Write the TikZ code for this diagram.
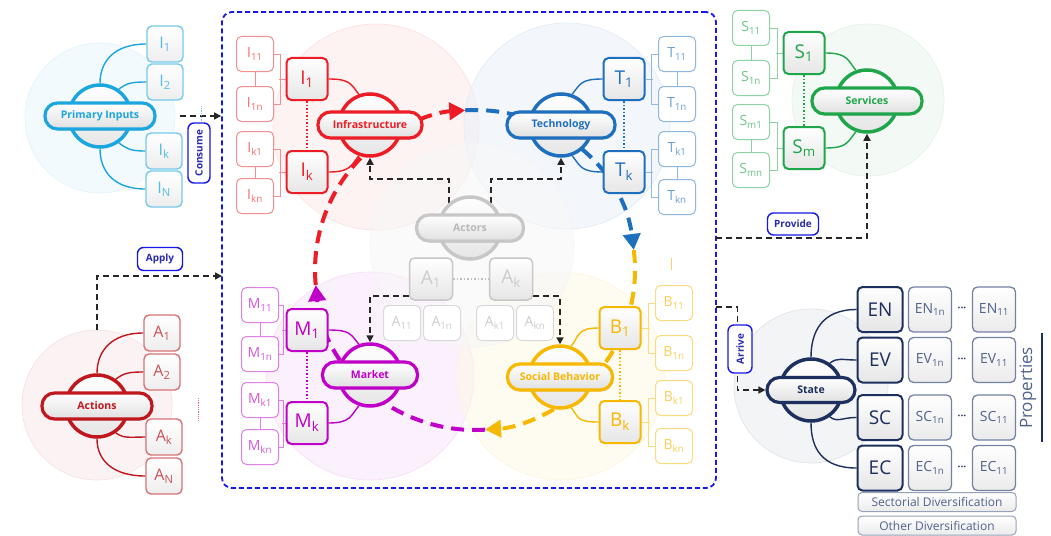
\documentclass[tikz,border=0pt]{standalone}
\usepackage{fontspec}
\setmainfont{Open Sans}
\usetikzlibrary{arrows.meta,shadows,calc}
\definecolor{pin}{HTML}{1BA6E0}
\definecolor{inf}{HTML}{EE1C24}
\definecolor{tec}{HTML}{1F6FBF}
\definecolor{srv}{HTML}{1FA64A}
\definecolor{act}{HTML}{C0161D}
\definecolor{mkt}{HTML}{C000C8}
\definecolor{soc}{HTML}{F6B800}
\definecolor{stt}{HTML}{1C2F5E}
\definecolor{sttl}{HTML}{50628C}
\definecolor{lab}{HTML}{1717E8}
\definecolor{labt}{HTML}{2A2AB0}
\colorlet{acg}{black!30}
\colorlet{acb}{black!22}
\pgfdeclarelayer{back}
\pgfdeclarelayer{mid}
\pgfsetlayers{back,mid,main}
\tikzset{
  bgcirc/.style={fill=#1!10, draw=#1!14, line width=0.6pt, fill opacity=0.5},
  mainframe/.style={draw=lab, line width=1.8pt, dash pattern=on 5pt off 3pt, rounded corners=10pt, minimum width=494pt, minimum height=476pt, inner sep=0pt},
  cloudc/.style={circle, minimum size=62pt, inner sep=0pt, draw=#1, line width=3.5pt, top color=white, bottom color=black!10},
  pill/.style={rectangle, rounded corners=12.5pt, minimum height=26pt, inner xsep=6pt, draw=#1, line width=3.2pt, top color=white, bottom color=black!12, text=#1, font=\bfseries\fontsize{10.5}{12}\selectfont, drop shadow={opacity=0.3,shadow xshift=1.2pt,shadow yshift=-1.5pt}},
  bigbox/.style={rectangle, rounded corners=5pt, minimum width=41pt, minimum height=42pt, inner sep=0pt, draw=#1, line width=2pt, top color=white, bottom color=black!10, text=#1, font=\fontsize{19}{21}\selectfont},
  smbox/.style={rectangle, rounded corners=5pt, minimum width=37pt, minimum height=35pt, inner sep=0pt, draw=#1!50, line width=1pt, fill=white, text=#1!65, font=\fontsize{14}{16}\selectfont},
  itbox/.style={rectangle, rounded corners=5pt, minimum width=36pt, minimum height=36pt, inner sep=0pt, draw=#1!60, line width=1.4pt, top color=white, bottom color=black!7, text=#1!75, font=\fontsize{16}{18}\selectfont},
  verbbox/.style={rectangle, rounded corners=6pt, draw=lab, line width=1.4pt, fill=white, text=labt, font=\bfseries\fontsize{10}{12}\selectfont, inner sep=0pt},
  dasharr/.style={draw=black!85, line width=1.6pt, dash pattern=on 6pt off 4pt, -{Triangle[length=7pt,width=7pt]}},
  conn/.style={draw=#1, line width=1.4pt},
  brk/.style={draw=#1!50, line width=0.8pt},
  dots/.style={draw=#1, dotted, line width=1.5pt},
  cyc/.style={draw=#1, line width=4pt, dash pattern=on 13pt off 8pt, -{Triangle[length=16pt,width=17pt]}},
  stbig/.style={rectangle, rounded corners=5pt, minimum width=45pt, minimum height=45pt, inner sep=0pt, draw=stt, line width=2pt, top color=white, bottom color=black!10, text=stt, font=\fontsize{19}{21}\selectfont},
  stsm/.style={rectangle, rounded corners=5pt, minimum width=43pt, minimum height=45pt, inner sep=0pt, draw=sttl!80, line width=1.3pt, top color=white, bottom color=black!8, text=sttl, font=\fontsize{14}{16}\selectfont},
  stdots/.style={text=stt, font=\bfseries\fontsize{10}{12}\selectfont, inner sep=0pt},
  stbar/.style={rectangle, rounded corners=4pt, minimum width=158pt, minimum height=19pt, inner sep=0pt, draw=sttl!60, line width=1pt, top color=white, bottom color=black!8, text=sttl, font=\fontsize{12}{14}\selectfont},
}
\begin{document}
\begin{tikzpicture}[x=1pt,y=-1pt]
\useasboundingbox (0,0) rectangle (1051,535);
\begin{pgfonlayer}{back}
\fill[white] (0,0) rectangle (1051,535);
\path[bgcirc=pin] (100,118) circle[radius=75pt];
\path[bgcirc=act] (97,405) circle[radius=75pt];
\path[bgcirc=srv] (868,100) circle[radius=76pt];
\path[bgcirc=stt] (811,386) circle[radius=77pt];
\path[bgcirc=inf] (376,127) circle[radius=103pt];
\path[bgcirc=tec] (567,126) circle[radius=103pt];
\path[bgcirc=mkt] (370,376) circle[radius=104pt];
\path[bgcirc=soc] (561,376) circle[radius=104pt];
\path[bgcirc=acg] (472,245) circle[radius=102pt];
\node[mainframe] (sys) at (469,250) {};
\end{pgfonlayer}

% Primary inputs
\node[cloudc=pin] (pinc) at (100,116) {};
\node[pill=pin, minimum width=110pt] (pinp) at (100,116) {Primary Inputs};
\node[itbox=pin] (pI1) at (165,44) {I\textsubscript{1}};
\node[itbox=pin] (pI2) at (165,82) {I\textsubscript{2}};
\node[itbox=pin] (pIk) at (164,151) {I\textsubscript{k}};
\node[itbox=pin] (pIN) at (164,189) {I\textsubscript{N}};
\node[verbbox, rotate=90, minimum width=60pt, minimum height=22pt] (cons) at (199,153) {Consume};
\coordinate (consS) at (180,116);

% Actions
\node[cloudc=act] (actc) at (97,406) {};
\node[pill=act, minimum width=110pt] (actp) at (97,406) {Actions};
\node[itbox=act] (aA1) at (162,333) {A\textsubscript{1}};
\node[itbox=act] (aA2) at (162,372) {A\textsubscript{2}};
\node[itbox=act] (aAk) at (164,437) {A\textsubscript{k}};
\node[itbox=act] (aAN) at (164,476) {A\textsubscript{N}};
\node[verbbox, minimum width=45pt, minimum height=23pt] (apply) at (160,259) {Apply};
\coordinate (apS) at (97,330);
\coordinate (apE) at (222,276);

% Infrastructure
\node[cloudc=inf] (infc) at (370,125) {};
\node[pill=inf, minimum width=104pt] (infp) at (370,125) {Infrastructure};
\node[bigbox=inf] (iI1) at (307,79) {I\textsubscript{1}};
\node[bigbox=inf] (iIk) at (307,172) {I\textsubscript{k}};
\node[smbox=inf] (i11) at (255,54) {I\textsubscript{11}};
\node[smbox=inf] (i1n) at (255,104) {I\textsubscript{1n}};
\node[smbox=inf] (ik1) at (255,149) {I\textsubscript{k1}};
\node[smbox=inf] (ikn) at (255,196) {I\textsubscript{kn}};

% Technology
\node[cloudc=tec] (tecc) at (561,125) {};
\node[pill=tec, minimum width=108pt] (tecp) at (561,125) {Technology};
\node[bigbox=tec] (tT1) at (624,79) {T\textsubscript{1}};
\node[bigbox=tec] (tTk) at (624,172) {T\textsubscript{k}};
\node[smbox=tec] (t11) at (677,54) {T\textsubscript{11}};
\node[smbox=tec] (t1n) at (677,104) {T\textsubscript{1n}};
\node[smbox=tec] (tk1) at (677,149) {T\textsubscript{k1}};
\node[smbox=tec] (tkn) at (677,197) {T\textsubscript{kn}};

% Market
\node[cloudc=mkt] (mktc) at (370,375) {};
\node[pill=mkt, minimum width=95pt] (mktp) at (370,375) {Market};
\node[bigbox=mkt] (mM1) at (307,330) {M\textsubscript{1}};
\node[bigbox=mkt] (mMk) at (307,423) {M\textsubscript{k}};
\node[smbox=mkt] (m11) at (260,305) {M\textsubscript{11}};
\node[smbox=mkt] (m1n) at (260,354) {M\textsubscript{1n}};
\node[smbox=mkt] (mk1) at (260,400) {M\textsubscript{k1}};
\node[smbox=mkt] (mkn) at (260,447) {M\textsubscript{kn}};

% Social behavior
\node[cloudc=soc] (socc) at (560,377) {};
\node[pill=soc, minimum width=105pt] (socp) at (560,377) {Social Behavior};
\node[bigbox=soc] (bB1) at (620,328) {B\textsubscript{1}};
\node[bigbox=soc] (bBk) at (620,422) {B\textsubscript{k}};
\node[smbox=soc] (b11) at (674,303) {B\textsubscript{11}};
\node[smbox=soc] (b1n) at (674,353) {B\textsubscript{1n}};
\node[smbox=soc] (bk1) at (674,398) {B\textsubscript{k1}};
\node[smbox=soc] (bkn) at (674,446) {B\textsubscript{kn}};

% Actors
\node[cloudc=acb] (acrc) at (470,228) {};
\node[pill=acb, text=black!28, minimum width=107pt] (acrp) at (470,228) {Actors};
\node[bigbox=acb, line width=1.5pt, minimum width=43pt, text=black!20] (acA1) at (431,279) {A\textsubscript{1}};
\node[bigbox=acb, line width=1.5pt, minimum width=43pt, text=black!20] (acAk) at (511,279) {A\textsubscript{k}};
\node[smbox=acg] (ac11) at (402,323) {A\textsubscript{11}};
\node[smbox=acg] (ac1n) at (442,323) {A\textsubscript{1n}};
\node[smbox=acg] (ack1) at (495,323) {A\textsubscript{k1}};
\node[smbox=acg] (ackn) at (535,323) {A\textsubscript{kn}};

% Services
\node[cloudc=srv] (srvc) at (867,101) {};
\node[pill=srv, minimum width=110pt] (srvp) at (867,101) {Services};
\node[bigbox=srv] (sS1) at (804,53) {S\textsubscript{1}};
\node[bigbox=srv] (sSm) at (804,148) {S\textsubscript{m}};
\node[smbox=srv] (s11) at (751,28) {S\textsubscript{11}};
\node[smbox=srv] (s1n) at (751,78) {S\textsubscript{1n}};
\node[smbox=srv] (sm1) at (751,122) {S\textsubscript{m1}};
\node[smbox=srv] (smn) at (751,170) {S\textsubscript{mn}};
\node[verbbox, minimum width=51pt, minimum height=22pt] (prov) at (793,224) {Provide};
\coordinate (prS) at (716,238);

% State
\node[cloudc=stt] (sttc) at (811,390) {};
\node[pill=stt, minimum width=88pt, minimum height=25pt] (sttp) at (811,390) {State};
\node[stbig] (sEN) at (880,309.5) {EN};
\node[stbig] (sEV) at (880,360) {EV};
\node[stbig] (sSC) at (880,417.5) {SC};
\node[stbig] (sEC) at (880,468) {EC};
\node[stsm] (sEN1) at (930,309.5) {EN\textsubscript{1n}};
\node[stsm] (sEN2) at (994,309.5) {EN\textsubscript{11}};
\node[stdots] (dEN) at (962,309.5) {···};
\node[stsm] (sEV1) at (930,360) {EV\textsubscript{1n}};
\node[stsm] (sEV2) at (994,360) {EV\textsubscript{11}};
\node[stdots] (dEV) at (962,360) {···};
\node[stsm] (sSC1) at (930,417.5) {SC\textsubscript{1n}};
\node[stsm] (sSC2) at (994,417.5) {SC\textsubscript{11}};
\node[stdots] (dSC) at (962,417.5) {···};
\node[stsm] (sEC1) at (930,468) {EC\textsubscript{1n}};
\node[stsm] (sEC2) at (994,468) {EC\textsubscript{11}};
\node[stdots] (dEC) at (962,468) {···};
\node[stbar] (sect) at (937,502) {Sectorial Diversification};
\node[stbar] (other) at (937,525.5) {Other Diversification};
\node[rotate=90, text=sttl, font=\fontsize{17}{19}\selectfont, inner sep=0pt] (prop) at (1028,388) {Properties};
\draw[stt, line width=1.2pt] (1042,333) -- (1042,442);
\node[verbbox, rotate=90, minimum width=48pt, minimum height=24pt] (arr) at (740,349) {Arrive};
\coordinate (arS) at (716,307);

\begin{pgfonlayer}{mid}
% main cycle
\draw[cyc=inf] ({475+160*cos(174.6)},{270+160*sin(174.6)}) arc[start angle=-174.6, end angle=-266.5, radius=160pt];
\draw[cyc=tec] ({475+160*cos(266.5)},{270+160*sin(266.5)}) arc[start angle=-266.5, end angle=-352.8, radius=160pt];
\draw[cyc=soc] ({475+160*cos(352.8)},{270+160*sin(352.8)}) arc[start angle=-352.8, end angle=-446.4, radius=160pt];
\draw[cyc=mkt] ({475+160*cos(446.4)},{270+160*sin(446.4)}) arc[start angle=-446.4, end angle=-534.6, radius=160pt];

% black dashed arrows
\draw[dasharr] (consS) -- (consS -| sys.west);
\draw[dasharr] (apS) |- (apE);
\draw[dasharr] (prS) -| (srvc.south);
\draw[dasharr] (arS) -| ([xshift=-28pt]sttp.west) -- (sttp.west);
\draw[dasharr] (acrc.130) -- ++(0,-24) -| (infc.south);
\draw[dasharr] (acrc.50) -- ++(0,-24) -| (tecc.south);
\draw[dasharr] ([yshift=-17pt]acA1.west) -| (mktc.north);
\draw[dasharr] ([yshift=-17pt]acAk.east) -| (socc.north);

% primary inputs links
\draw[conn=pin] (pI1.west) .. controls +(-32,0) and +(0,-22) .. (pinc.north);
\draw[conn=pin] (pI2.west) .. controls +(-15,0) and +(8,-6) .. (pinc.55);
\draw[conn=pin] (pIk.west) .. controls +(-15,0) and +(8,6) .. (pinc.-55);
\draw[conn=pin] (pIN.west) .. controls +(-32,0) and +(0,22) .. (pinc.south);
\draw[pin!60, densely dotted, line width=0.8pt] (201,106) -- (201,122);
% actions links
\draw[conn=act] (aA1.west) .. controls +(-32,0) and +(0,-22) .. (actc.north);
\draw[conn=act] (aA2.west) .. controls +(-15,0) and +(8,-6) .. (actc.55);
\draw[conn=act] (aAk.west) .. controls +(-15,0) and +(8,6) .. (actc.-55);
\draw[conn=act] (aAN.west) .. controls +(-32,0) and +(0,22) .. (actc.south);
\draw[act!60, densely dotted, line width=0.8pt] (198,398) -- (198,420);
% state links
\draw[conn=stt] (sEN.west) .. controls +(-35,0) and +(0,-25) .. (sttc.north);
\draw[conn=stt] (sEV.west) .. controls +(-15,0) and +(8,-6) .. (sttc.55);
\draw[conn=stt] (sSC.west) .. controls +(-15,0) and +(8,6) .. (sttc.-55);
\draw[conn=stt] (sEC.west) .. controls +(-35,0) and +(0,25) .. (sttc.south);

% infrastructure
\draw[conn=inf] (iI1.east) .. controls +(22,0) and +(-8,-10) .. (infc.110);
\draw[conn=inf] (iIk.east) .. controls +(22,0) and +(-8,10) .. (infc.250);
\draw[brk=inf] (i11.east) -- ++(6,0) |- (i1n.east);
\draw[brk=inf] (ik1.east) -- ++(6,0) |- (ikn.east);
\draw[brk=inf] (iI1.west) -- ++(-7,0);
\draw[brk=inf] (iIk.west) -- ++(-7,0);
\draw[brk=inf] (i11.south) -- (i1n.north);
\draw[brk=inf] (ik1.south) -- (ikn.north);
\draw[dots=inf] (iI1.south) -- (iIk.north);
% technology
\draw[conn=tec] (tT1.west) .. controls +(-22,0) and +(8,-10) .. (tecc.70);
\draw[conn=tec] (tTk.west) .. controls +(-22,0) and +(8,10) .. (tecc.290);
\draw[brk=tec] (t11.west) -- ++(-7,0) |- (t1n.west);
\draw[brk=tec] (tk1.west) -- ++(-7,0) |- (tkn.west);
\draw[brk=tec] (tT1.east) -- ++(7,0);
\draw[brk=tec] (tTk.east) -- ++(7,0);
\draw[brk=tec] (t11.south) -- (t1n.north);
\draw[brk=tec] (tk1.south) -- (tkn.north);
\draw[dots=tec] (tT1.south) -- (tTk.north);
% market
\draw[conn=mkt] (mM1.east) .. controls +(22,0) and +(-8,-10) .. (mktc.110);
\draw[conn=mkt] (mMk.east) .. controls +(22,0) and +(-8,10) .. (mktc.250);
\draw[brk=mkt] (m11.east) -- ++(4,0) |- (m1n.east);
\draw[brk=mkt] (mk1.east) -- ++(4,0) |- (mkn.east);
\draw[brk=mkt] (mM1.west) -- ++(-4,0);
\draw[brk=mkt] (mMk.west) -- ++(-4,0);
\draw[brk=mkt] (m11.south) -- (m1n.north);
\draw[brk=mkt] (mk1.south) -- (mkn.north);
\draw[dots=mkt] (mM1.south) -- (mMk.north);
% social
\draw[conn=soc] (bB1.west) .. controls +(-22,0) and +(8,-10) .. (socc.70);
\draw[conn=soc] (bBk.west) .. controls +(-22,0) and +(8,10) .. (socc.290);
\draw[brk=soc] (b11.west) -- ++(-7,0) |- (b1n.west);
\draw[brk=soc] (bk1.west) -- ++(-7,0) |- (bkn.west);
\draw[brk=soc] (bB1.east) -- ++(8,0);
\draw[brk=soc] (bBk.east) -- ++(8,0);
\draw[dots=soc] (bB1.south) -- (bBk.north);
\draw[soc!60, line width=0.8pt] (671,258) -- (671,270);
% services
\draw[conn=srv] (sS1.east) .. controls +(22,0) and +(-8,-10) .. (srvc.110);
\draw[conn=srv] (sSm.east) .. controls +(22,0) and +(-8,10) .. (srvc.250);
\draw[brk=srv] (s11.east) -- ++(7,0) |- (s1n.east);
\draw[brk=srv] (sm1.east) -- ++(7,0) |- (smn.east);
\draw[brk=srv] (sS1.west) -- ++(-7,0);
\draw[brk=srv] (sSm.west) -- ++(-7,0);
\draw[brk=srv] (s11.south) -- (s1n.north);
\draw[brk=srv] (sm1.south) -- (smn.north);
\draw[dots=srv] (sS1.south) -- (sSm.north);
% actors
\draw[dots=black!25] (acA1.east) -- (acAk.west);
\end{pgfonlayer}
\end{tikzpicture}
\end{document}
